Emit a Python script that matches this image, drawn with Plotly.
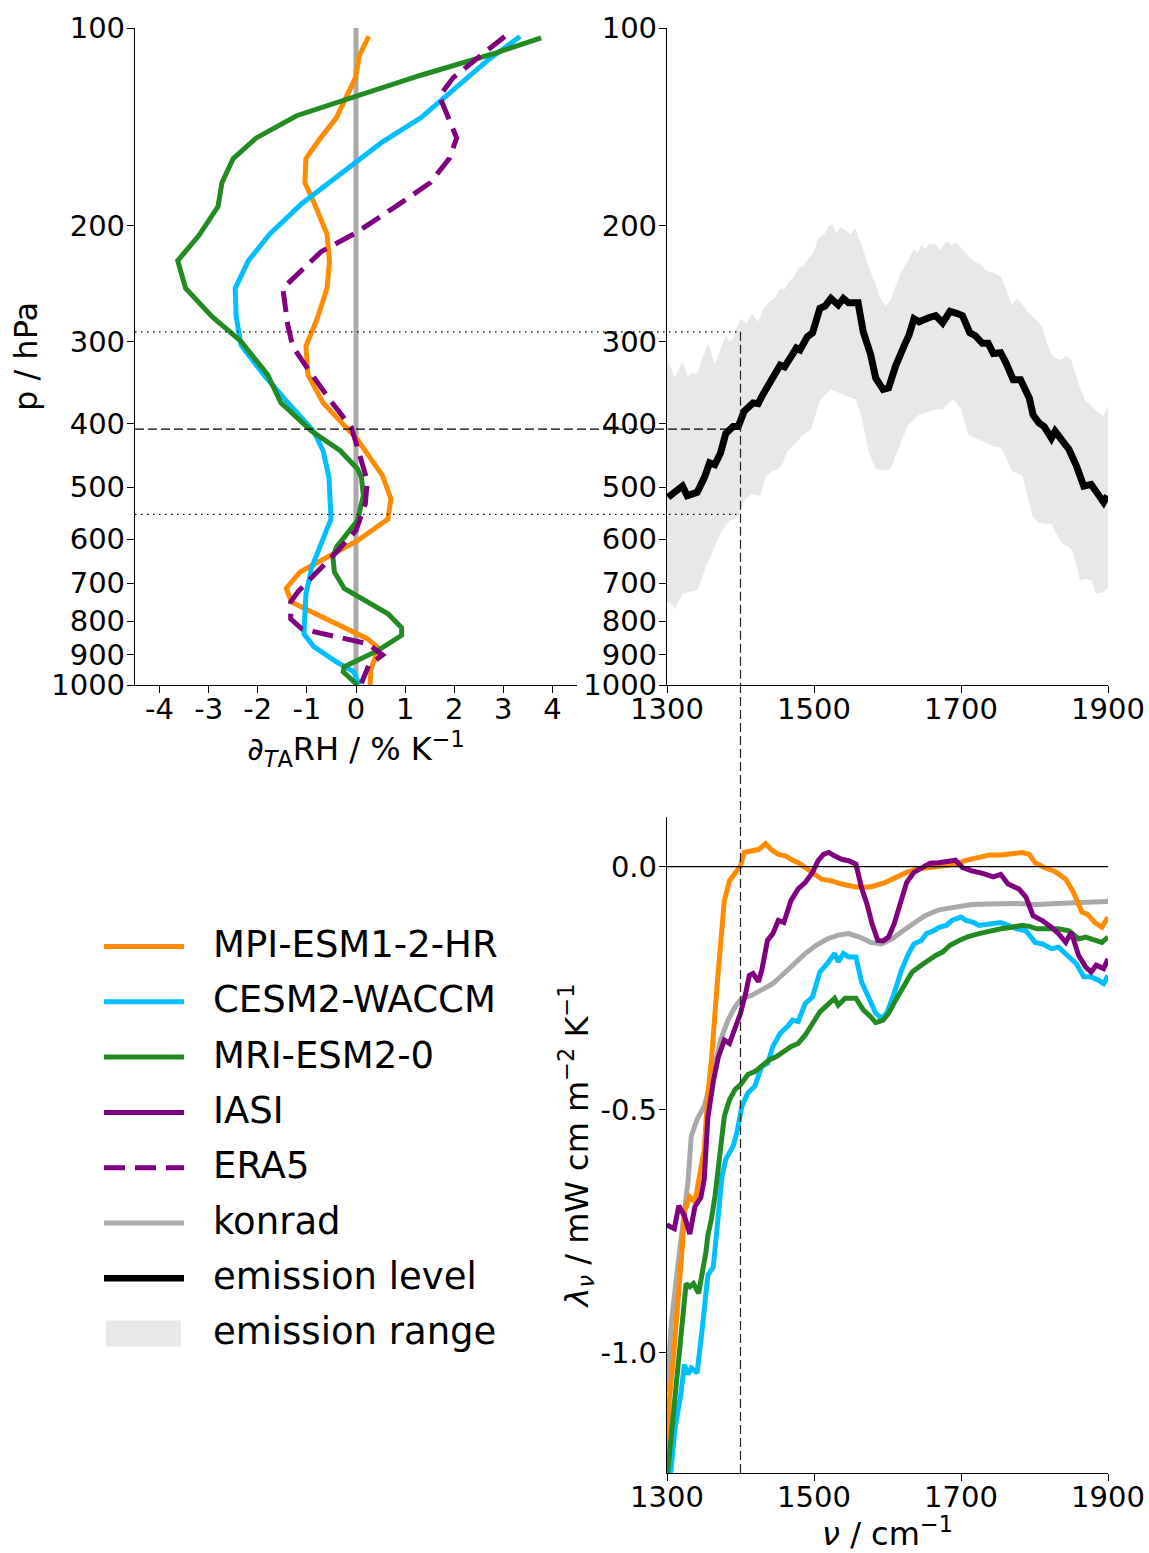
import plotly.graph_objects as go

FONT = "DejaVu Sans"
W, H = 1149, 1553

# ---------------- relative humidity change profiles (p in hPa, dRH in % / K) ----------------
p_mpi = [103, 110, 119, 128, 137, 148, 158, 172, 184, 206, 227, 249, 277, 305, 337, 372,
         423, 448, 480, 521, 559, 603, 628, 646, 673, 713, 748, 850, 879, 949, 1000]
rh_mpi = [0.26, 0.07, -0.01, -0.2, -0.4, -0.75, -1.02, -1.04, -0.86, -0.59, -0.54, -0.59, -0.79, -1.02, -0.98, -0.67,
          0.03, 0.26, 0.54, 0.71, 0.65, 0.03, -0.4, -0.71, -1.14, -1.42, -1.31, 0.23, 0.46, 0.3, 0.29]

p_cesm = [103, 112, 128, 137, 149, 165, 172, 185, 206, 226, 249, 275, 304, 337, 370, 411,
          440, 483, 559, 617, 662, 727, 836, 874, 922, 954, 1000]
rh_cesm = [3.34, 2.68, 1.78, 1.32, 0.54, -0.24, -0.55, -1.1, -1.76, -2.19, -2.46, -2.44, -2.34, -1.88, -1.41, -0.86,
           -0.67, -0.55, -0.51, -0.75, -0.9, -1.02, -1.06, -0.86, -0.4, -0.05, 0.07]

p_mri = [103.5, 109, 118, 129, 136, 147, 158, 172, 187, 207, 226, 249, 275, 300, 337, 372, 411,
         440, 469, 483, 515, 562, 617, 639, 673, 713, 748, 779, 818, 840, 885, 938, 955, 1000]
rh_mri = [3.77, 2.87, 1.32, -0.24, -1.21, -2.03, -2.5, -2.73, -2.81, -3.2, -3.63, -3.47, -2.93, -2.34, -1.8, -1.53, -0.9,
          -0.32, 0.03, 0.11, 0.15, 0.03, -0.4, -0.47, -0.44, -0.24, 0.23, 0.65, 0.93, 0.93, 0.46, -0.24, -0.26, 0.03]

p_era5 = [103, 112, 119, 127, 147, 158, 172, 186, 205, 219, 249, 283, 305, 327, 370, 406,
          445, 489, 530, 582, 628, 721, 748, 793, 822, 865, 900, 933, 994]
rh_era5 = [3.03, 2.4, 1.98, 1.7, 2.05, 1.9, 1.51, 0.85, 0.0, -0.71, -1.49, -1.39, -1.29, -1.02, -0.51, -0.09,
           0.07, 0.23, 0.19, 0.0, -0.4, -1.18, -1.33, -1.33, -1.1, 0.23, 0.54, 0.26, 0.11]

p_konrad = [100, 1000]
rh_konrad = [0, 0]

# ---------------- emission level and range (wavenumber in cm-1, p in hPa) ----------------
nu_level = [1301.5, 1311, 1321, 1327.5, 1341, 1351, 1358, 1365, 1373, 1380, 1390, 1397, 1405, 1417, 1424,
            1430, 1439, 1454, 1460, 1469, 1476, 1481, 1491, 1498, 1508, 1515, 1523, 1533, 1540, 1547, 1560,
            1567, 1577, 1584, 1594, 1601.5, 1611, 1624, 1629, 1636, 1643, 1656, 1665.5, 1675, 1685, 1695,
            1702, 1712, 1719.5, 1729, 1737, 1744, 1754, 1761, 1771, 1781, 1793, 1798, 1806, 1813, 1823,
            1828, 1838, 1847, 1857, 1867, 1877, 1884, 1894, 1899]
p_level = [518, 509, 498, 515, 509, 483, 459, 462, 443, 414, 404, 404, 383, 372, 373,
           362, 349, 326, 328, 314, 307, 309, 295, 291, 267, 265, 258, 264, 258, 262, 262,
           290, 314, 341, 355, 353, 327, 302, 294, 277, 280, 276, 274, 281, 270, 272,
           274, 291, 294, 302, 302, 313, 312, 323, 343, 343, 366, 388, 399, 404, 421,
           411, 423, 438, 464, 498, 495, 509, 527, 515]

nu_range_top = [1300, 1303, 1306, 1311, 1316, 1321, 1328, 1334, 1341, 1348, 1356, 1360, 1365, 1372, 1380,
                1385, 1390, 1395, 1400, 1408, 1415, 1424, 1431, 1439, 1446, 1454, 1460, 1466, 1472, 1478.5,
                1486, 1493, 1500, 1505.6, 1514, 1520, 1525, 1530, 1536, 1542.5, 1550, 1556, 1560, 1566,
                1572, 1578, 1584, 1590, 1596.6, 1604, 1611, 1619, 1628, 1636, 1641, 1646, 1651, 1657,
                1665.5, 1672, 1680, 1687.6, 1693, 1700, 1709, 1719.5, 1727, 1734, 1745, 1754, 1762, 1769,
                1776, 1783.5, 1790, 1798, 1804, 1810.6, 1816, 1823, 1829, 1835, 1843, 1850, 1856, 1862,
                1869.6, 1875, 1882, 1888, 1894, 1900]
p_range_top = [316, 326, 330, 341, 330, 322, 338, 335, 336, 318, 302, 312, 325, 310, 293,
               300, 297, 285, 277, 282, 272, 280, 268, 261, 258, 249, 250, 243, 240, 232,
               230, 224, 219, 209, 206, 200, 199, 205, 201, 203, 206, 202, 207, 216,
               227, 236, 246, 257, 265, 260, 247, 235, 226, 217, 220, 214, 217, 213,
               213, 218, 211, 214, 212, 216, 222, 227, 229, 234, 236, 239, 250, 264,
               258, 263, 270, 275, 279, 285, 300, 314, 318, 320, 316, 320, 335, 353,
               370, 373, 381, 386, 390, 376]

nu_range_bottom = [1300, 1305, 1311, 1316, 1321, 1330, 1341, 1347, 1353, 1360.5, 1367, 1375, 1385, 1391, 1397,
                   1405, 1415, 1427, 1434, 1444, 1450, 1456, 1464, 1474, 1483.5, 1496, 1502, 1508, 1515, 1523,
                   1530, 1537.6, 1546, 1557, 1565, 1574.5, 1584, 1596.6, 1604, 1614, 1621, 1628.6, 1636, 1643,
                   1650, 1658, 1667, 1675, 1685, 1690, 1700, 1710, 1717, 1724.5, 1734, 1744, 1754, 1762,
                   1769, 1776, 1783.5, 1791, 1798, 1805, 1813, 1823, 1831, 1838, 1845, 1852, 1862, 1870,
                   1877, 1884, 1894, 1900]
p_range_bottom = [748, 752, 766, 745, 727, 722, 718, 690, 662, 632, 608, 582, 562, 560, 556,
                  524, 512, 515, 483, 472, 470, 464, 440, 430, 418, 408, 388, 370, 362, 355,
                  358, 361, 364, 368, 392, 443, 469, 472, 469, 440, 420, 401, 395, 388,
                  386, 383, 380, 381, 370, 368, 381, 416, 419, 423, 428, 433, 435, 452,
                  472, 476, 480, 520, 556, 565, 569, 569, 592, 610, 615, 625, 693, 690,
                  693, 727, 722, 711]

# ---------------- spectral feedback (wavenumber in cm-1, lambda in mW cm m-2 K-1) ----------------
nu_mpi = [1300, 1303, 1309, 1316, 1321, 1323.6, 1331, 1338, 1343, 1350.7, 1355.6, 1360.5, 1368, 1373, 1378,
          1385, 1392.5, 1400, 1405, 1415, 1424.5, 1434, 1441.7, 1451.5, 1461, 1468.7, 1478.5, 1488, 1498,
          1510.5, 1523, 1537.6, 1557, 1577, 1596.6, 1611, 1626, 1641, 1655.6, 1675, 1695, 1705, 1719.6,
          1739, 1754, 1768.8, 1783.5, 1793, 1800.8, 1813, 1828, 1842.5, 1852, 1864.7, 1872, 1882, 1891.7, 1900]
lam_mpi = [-1.2, -1.1, -1.005, -0.882, -0.78, -0.711, -0.68, -0.69, -0.65, -0.582, -0.466, -0.398, -0.248, -0.145, -0.07,
           -0.029, -0.012, 0.001, 0.029, 0.032, 0.035, 0.047, 0.035, 0.025, 0.022, 0.015, 0.008, -0.002, -0.012,
           -0.026, -0.029, -0.036, -0.042, -0.042, -0.033, -0.023, -0.012, -0.005, -0.002, 0.0, 0.005, 0.012, 0.018,
           0.024, 0.024, 0.027, 0.029, 0.025, 0.008, -0.002, -0.01, -0.026, -0.05, -0.094, -0.098, -0.115, -0.125, -0.104]

nu_cesm = [1300, 1305.4, 1311, 1318.7, 1323.6, 1328.5, 1333, 1341, 1348, 1355.6, 1363, 1370, 1375, 1380, 1390,
           1395, 1402, 1410, 1419.5, 1429, 1437, 1444, 1454, 1464, 1471, 1478.5, 1488, 1498, 1508, 1518,
           1528, 1533, 1540, 1547, 1557, 1564.6, 1574.5, 1584, 1591.7, 1599, 1609, 1619, 1628.6, 1636, 1646,
           1653, 1663, 1670, 1680, 1687.6, 1700, 1707, 1717, 1724.5, 1739, 1754, 1764, 1776, 1788.4, 1800.8,
           1810.6, 1823, 1832.7, 1845, 1857, 1867, 1877, 1887, 1894, 1900]
lam_cesm = [-1.3, -1.243, -1.155, -1.087, -1.025, -1.045, -1.032, -1.042, -0.95, -0.841, -0.824, -0.711, -0.636, -0.602, -0.575,
            -0.548, -0.493, -0.466, -0.452, -0.411, -0.405, -0.37, -0.343, -0.329, -0.316, -0.319, -0.282, -0.268, -0.217, -0.2,
            -0.179, -0.196, -0.179, -0.186, -0.186, -0.237, -0.268, -0.302, -0.312, -0.302, -0.261, -0.213, -0.179, -0.159, -0.152,
            -0.138, -0.132, -0.125, -0.121, -0.111, -0.104, -0.111, -0.115, -0.121, -0.118, -0.115, -0.121, -0.128, -0.132, -0.156,
            -0.159, -0.169, -0.166, -0.183, -0.2, -0.227, -0.227, -0.234, -0.241, -0.224]

nu_mri = [1300, 1301.5, 1309, 1316, 1323.6, 1326, 1331, 1336, 1343, 1348, 1353, 1355.6, 1360.5, 1365.4, 1370,
          1378, 1385, 1392.5, 1400, 1410, 1419.5, 1429, 1439, 1449, 1459, 1469, 1478.5, 1488, 1498, 1508,
          1518, 1528, 1533, 1542.5, 1557, 1567, 1577, 1584, 1594, 1601.5, 1611, 1621, 1633.5, 1646, 1655.6,
          1665.5, 1675, 1685, 1697.5, 1710, 1724.5, 1739, 1754, 1768.8, 1783.5, 1793, 1803, 1818, 1832.7,
          1847, 1860, 1869.6, 1882, 1891.7, 1900]
lam_mri = [-1.26, -1.237, -1.134, -1.032, -0.889, -0.858, -0.865, -0.858, -0.878, -0.841, -0.793, -0.759, -0.725, -0.677, -0.623,
           -0.514, -0.48, -0.459, -0.449, -0.428, -0.422, -0.411, -0.398, -0.391, -0.381, -0.37, -0.364, -0.347, -0.323, -0.299,
           -0.285, -0.271, -0.285, -0.271, -0.271, -0.295, -0.309, -0.321, -0.316, -0.302, -0.275, -0.248, -0.217, -0.203, -0.193,
           -0.183, -0.176, -0.162, -0.152, -0.144, -0.138, -0.132, -0.128, -0.125, -0.121, -0.123, -0.128, -0.128, -0.128,
           -0.132, -0.149, -0.145, -0.152, -0.156, -0.145]

nu_iasi = [1300, 1301.5, 1310, 1316, 1323.6, 1331, 1338, 1346, 1350.7, 1355.6, 1363, 1370, 1378, 1385, 1390,
           1400, 1407, 1412, 1417, 1424.5, 1429, 1436.7, 1444, 1451.5, 1459, 1468.7, 1478.5, 1488, 1498, 1505.6,
           1513, 1520, 1527.7, 1537.6, 1547, 1557, 1564.6, 1572, 1579, 1586.8, 1594, 1601.5, 1609, 1616, 1626,
           1636, 1646, 1658, 1670, 1682.7, 1692.5, 1702, 1714.7, 1729.4, 1744, 1754, 1764, 1778.6, 1788.4, 1798,
           1810.6, 1823, 1832.7, 1842.5, 1850, 1860, 1869.8, 1877, 1884, 1894, 1900]
lam_iasi = [-0.735, -0.739, -0.745, -0.698, -0.718, -0.756, -0.7, -0.681, -0.643, -0.517, -0.442, -0.391, -0.357, -0.364, -0.343,
            -0.302, -0.261, -0.224, -0.22, -0.237, -0.213, -0.152, -0.138, -0.111, -0.115, -0.07, -0.046, -0.033, -0.012, 0.012,
            0.025, 0.029, 0.022, 0.015, 0.012, 0.005, -0.043, -0.077, -0.118, -0.152, -0.153, -0.145, -0.118, -0.08, -0.033,
            -0.012, -0.002, 0.007, 0.008, 0.01, 0.013, -0.002, -0.009, -0.014, -0.021, -0.016, -0.036, -0.046, -0.063, -0.101,
            -0.111, -0.125, -0.138, -0.156, -0.135, -0.183, -0.207, -0.217, -0.203, -0.21, -0.19]

nu_konrad = [1300, 1306, 1313.8, 1321, 1328.5, 1333, 1341, 1350.7, 1360.5, 1373, 1383, 1392.5, 1402, 1415, 1429,
             1444, 1459, 1473.6, 1488, 1503, 1518, 1532.7, 1547, 1562, 1577, 1592, 1606, 1621, 1636, 1651,
             1670, 1690, 1714.7, 1739, 1773.7, 1803, 1832.7, 1862, 1900]
lam_konrad = [-1.08, -0.937, -0.834, -0.739, -0.65, -0.555, -0.52, -0.493, -0.439, -0.357, -0.316, -0.289, -0.271, -0.265, -0.254,
              -0.241, -0.22, -0.2, -0.179, -0.162, -0.149, -0.141, -0.138, -0.145, -0.156, -0.159, -0.149, -0.132, -0.115, -0.101,
              -0.089, -0.083, -0.078, -0.077, -0.076, -0.078, -0.077, -0.074, -0.072]

# reference levels (hPa) and wavenumber (cm-1) marked by the guide lines
p_guides = [290, 408, 550]
guide_dash = ["1.5px,4.5px", "9px,4px", "1.5px,4.5px"]
nu_guide = 1400

names = ["MPI-ESM1-2-HR", "CESM2-WACCM", "MRI-ESM2-0", "IASI", "ERA5", "konrad", "emission level", "emission range"]
colors = {"MPI-ESM1-2-HR": "#ff8c00", "CESM2-WACCM": "#00bfff", "MRI-ESM2-0": "#228b22",
          "IASI": "#800080", "ERA5": "#800080", "konrad": "#a9a9a9",
          "emission level": "#000000", "emission range": "#e8e8e8"}
dashes = {"ERA5": "21px,10px"}
LW = 5

# ---------------- layout geometry (pixels -> paper fractions) ----------------
def px_x(v):
    return v / W

def px_y(v):
    return 1 - v / H

dom_x1 = [px_x(135), px_x(577)]
dom_x2 = [px_x(667), px_x(1108)]
dom_ytop = [px_y(685), px_y(28)]
dom_ybot = [px_y(1473), px_y(817)]
NU_RANGE = [1300, 1900]

fig = go.Figure()

# ---- top left: RH change profiles ----
fig.add_trace(go.Scatter(x=rh_konrad, y=p_konrad, mode="lines", name="konrad",
                         line=dict(color=colors["konrad"], width=5), xaxis="x", yaxis="y", showlegend=False))
for nm, xs, ps in [("MPI-ESM1-2-HR", rh_mpi, p_mpi), ("CESM2-WACCM", rh_cesm, p_cesm),
                   ("MRI-ESM2-0", rh_mri, p_mri), ("ERA5", rh_era5, p_era5)]:
    fig.add_trace(go.Scatter(x=xs, y=ps, mode="lines", name=nm,
                             line=dict(color=colors[nm], width=LW, dash=dashes.get(nm, "solid")),
                             xaxis="x", yaxis="y", showlegend=False))

# ---- top right: emission level and range ----
fig.add_trace(go.Scatter(x=nu_range_top + nu_range_bottom[::-1], y=p_range_top + p_range_bottom[::-1],
                         mode="lines", fill="toself", fillcolor=colors["emission range"], line=dict(width=0),
                         name="emission range", xaxis="x2", yaxis="y2", showlegend=False))
fig.add_trace(go.Scatter(x=nu_level, y=p_level, mode="lines", name="emission level",
                         line=dict(color=colors["emission level"], width=7),
                         xaxis="x2", yaxis="y2", showlegend=False))

# ---- bottom right: spectral feedback ----
for nm, xs, ys in [("konrad", nu_konrad, lam_konrad), ("MPI-ESM1-2-HR", nu_mpi, lam_mpi),
                   ("CESM2-WACCM", nu_cesm, lam_cesm), ("MRI-ESM2-0", nu_mri, lam_mri),
                   ("IASI", nu_iasi, lam_iasi)]:
    fig.add_trace(go.Scatter(x=xs, y=ys, mode="lines", name=nm, line=dict(color=colors[nm], width=LW),
                             xaxis="x3", yaxis="y3", showlegend=False))

# ---- axes ----
tick_font = dict(family=FONT, size=29, color="black")
title_font = dict(family=FONT, size=32, color="black")
common = dict(showline=True, linecolor="black", linewidth=1.3, ticks="outside", ticklen=7, tickwidth=1.3,
              tickcolor="black", showgrid=False, zeroline=False, tickfont=tick_font, automargin=False)
xcommon = dict(common, ticklabelstandoff=-9)
ycommon = dict(common, ticklabelstandoff=-4)
p_ticks = [100, 200, 300, 400, 500, 600, 700, 800, 900, 1000]

fig.update_layout(
    width=W, height=H, margin=dict(l=0, r=0, t=0, b=0),
    paper_bgcolor="white", plot_bgcolor="white", showlegend=False,
    font=dict(family=FONT, color="black"),
    xaxis=dict(domain=dom_x1, range=[-4.5, 4.5], anchor="y",
               tickvals=list(range(-4, 5)), ticktext=[str(v) for v in range(-4, 5)],
               title=dict(text="∂<sub><i>T</i>A</sub>RH / % K<sup>−1</sup>", font=title_font, standoff=4), **xcommon),
    yaxis=dict(domain=dom_ytop, type="log", range=[3, 2], anchor="x",
               tickvals=p_ticks, ticktext=[str(v) for v in p_ticks],
               title=dict(text="p / hPa", font=title_font, standoff=4), **ycommon),
    xaxis2=dict(domain=dom_x2, range=NU_RANGE, anchor="y2", tickvals=[1300, 1500, 1700, 1900], **xcommon),
    yaxis2=dict(domain=dom_ytop, type="log", range=[3, 2], anchor="x2",
                tickvals=p_ticks, ticktext=[str(v) for v in p_ticks], **ycommon),
    xaxis3=dict(domain=dom_x2, range=NU_RANGE, anchor="y3", tickvals=[1300, 1500, 1700, 1900],
                title=dict(text="<i>ν</i> / cm<sup>−1</sup>", font=title_font, standoff=9), **xcommon),
    yaxis3=dict(domain=dom_ybot, range=[-1.248, 0.102], anchor="x3",
                tickvals=[0.0, -0.5, -1.0], ticktext=["0.0", "-0.5", "-1.0"],
                title=dict(text="<i>λ</i><sub><i>ν</i></sub> / mW cm m<sup>−2</sup> K<sup>−1</sup>",
                           font=title_font, standoff=2), **ycommon),
)

# ---- guide lines ----
nu_paper = dom_x2[0] + (nu_guide - NU_RANGE[0]) / (NU_RANGE[1] - NU_RANGE[0]) * (dom_x2[1] - dom_x2[0])
shapes = []
for pg, dsh in zip(p_guides, guide_dash):
    shapes.append(dict(type="line", xref="paper", yref="y", x0=dom_x1[0], x1=nu_paper, y0=pg, y1=pg,
                       line=dict(color="black", width=1.2, dash=dsh)))
shapes.append(dict(type="line", xref="x2", yref="y2", x0=nu_guide, x1=nu_guide, y0=p_guides[0], y1=1000,
                   line=dict(color="#222222", width=1.2, dash="9px,4px")))
shapes.append(dict(type="line", xref="x3", yref="paper", x0=nu_guide, x1=nu_guide, y0=dom_ybot[0], y1=dom_ytop[0],
                   line=dict(color="#222222", width=1.2, dash="9px,4px")))
shapes.append(dict(type="line", xref="x3 domain", yref="y3", x0=0, x1=1, y0=0, y1=0,
                   line=dict(color="black", width=1.2)))

# ---- legend (drawn as keys + labels) ----
leg_x0, leg_x1, leg_tx = px_x(104), px_x(184), px_x(211)
leg_y0, leg_dy = 946.5, 55.3
annotations = []
for i, nm in enumerate(names):
    yy = px_y(leg_y0 + i * leg_dy)
    if nm == "emission range":
        shapes.append(dict(type="rect", xref="paper", yref="paper", x0=px_x(106), x1=px_x(181),
                           y0=yy - 13 / H, y1=yy + 13 / H, fillcolor=colors[nm], line=dict(width=0)))
    else:
        shapes.append(dict(type="line", xref="paper", yref="paper", x0=leg_x0, x1=leg_x1, y0=yy, y1=yy,
                           line=dict(color=colors[nm], width=LW + (1.5 if nm == "emission level" else 0),
                                     dash=dashes.get(nm, "solid"))))
    annotations.append(dict(xref="paper", yref="paper", x=leg_tx, y=yy + 2 / H, text=nm, showarrow=False,
                            xanchor="left", yanchor="middle", font=dict(family=FONT, size=37, color="black")))

fig.update_layout(shapes=shapes, annotations=annotations)
fig.write_html("out.html")
